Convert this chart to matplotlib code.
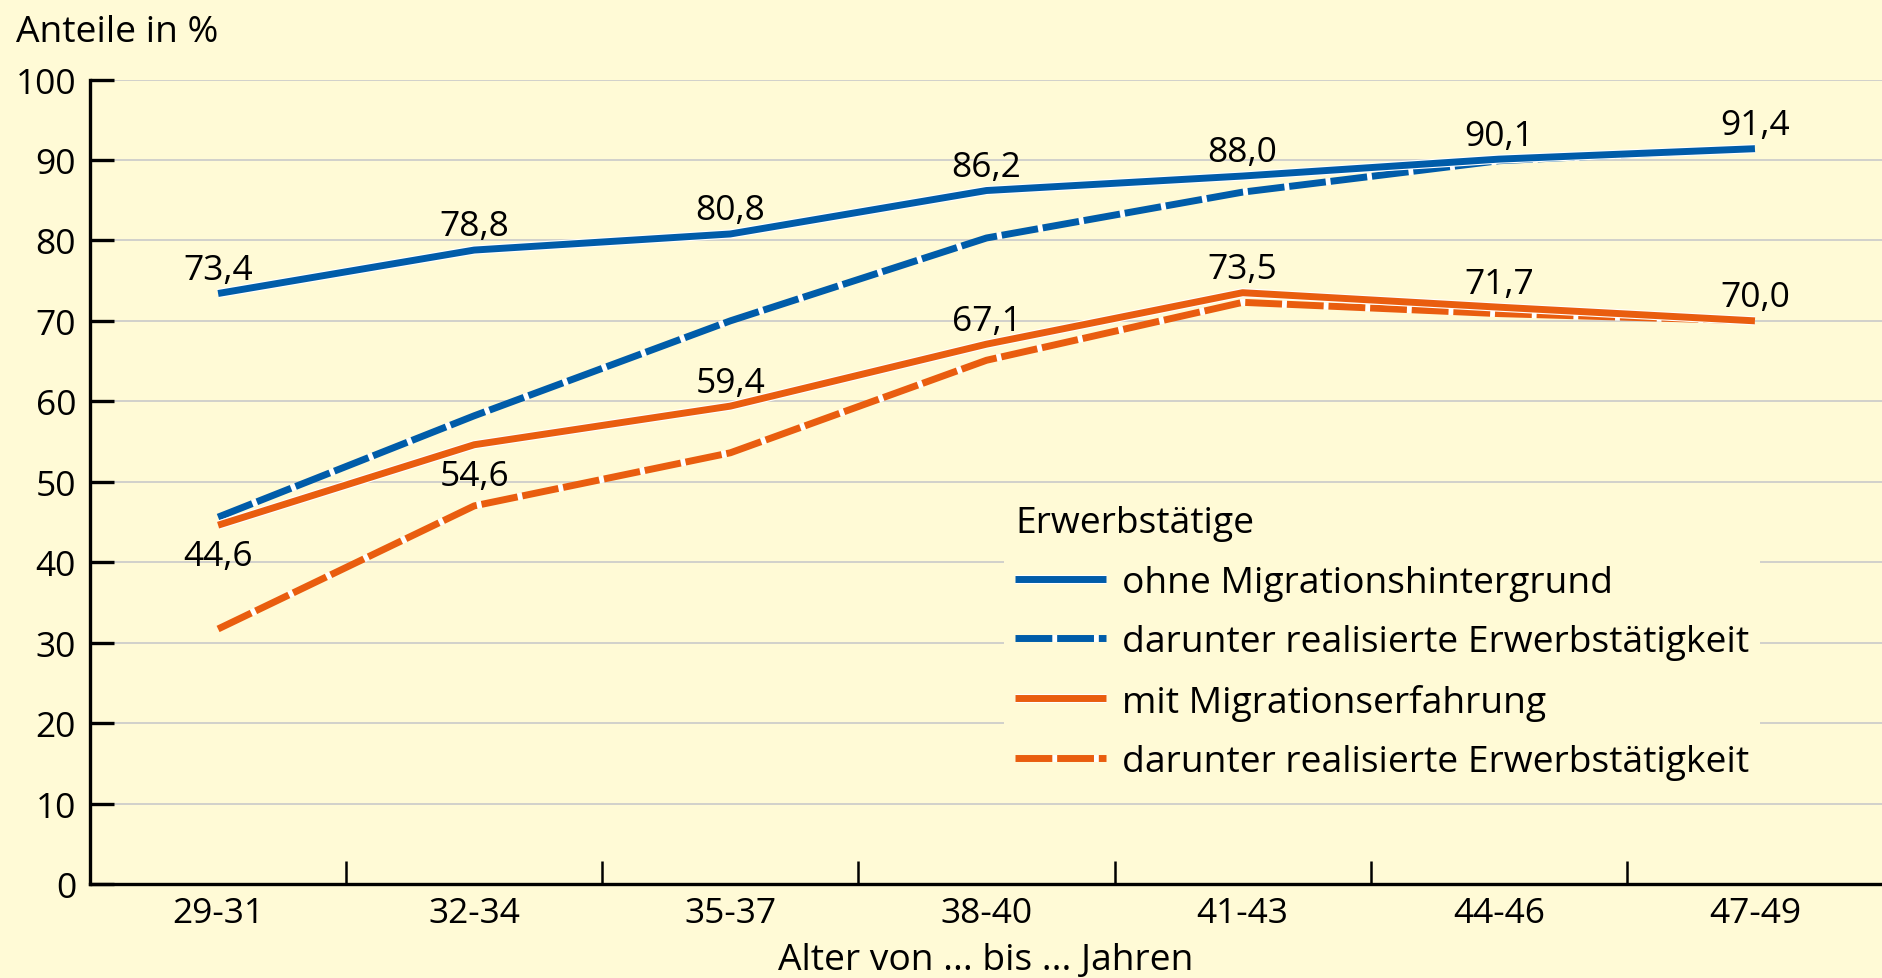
import matplotlib
matplotlib.use("Agg")
import matplotlib.pyplot as plt
import matplotlib.patheffects as pe
from matplotlib.ticker import FixedLocator

plt.rcParams['font.family'] = ['Open Sans', 'DejaVu Sans']

# age groups on the x axis
age_groups = ['29-31', '32-34', '35-37', '38-40', '41-43', '44-46', '47-49']

# shares in percent
ohne_mig = [73.4, 78.8, 80.8, 86.2, 88.0, 90.1, 91.4]
ohne_mig_real = [45.6, 58.2, 70.0, 80.3, 86.0, 89.9, 91.4]
mit_mig = [44.6, 54.6, 59.4, 67.1, 73.5, 71.7, 70.0]
mit_mig_real = [31.7, 47.0, 53.6, 65.1, 72.3, 70.9, 70.0]

# where the value label sits relative to the solid line
ohne_label_pos = ['above'] * 7
mit_label_pos = ['below', 'below', 'above', 'above', 'above', 'above', 'above']

legend_labels = ['ohne Migrationshintergrund', 'darunter realisierte Erwerbstätigkeit',
                 'mit Migrationserfahrung', 'darunter realisierte Erwerbstätigkeit']

bg = '#fffad6'
blue = '#005ca9'
orange = '#e95d0f'
lw = 5.0
dash = (0, (5.3, 0.7))
halo = [pe.Stroke(linewidth=lw + 1.6, foreground='white'), pe.Normal()]
fs_num = 25.5
fs_txt = 26.8


def fmt(v):
    return f"{v:.1f}".replace('.', ',')


fig = plt.figure(figsize=(18.83, 9.79), dpi=100, facecolor=bg)
ax = fig.add_axes([90 / 1883, 1 - 885 / 979, 1 - 90 / 1883, (885 - 80.5) / 979])
ax.set_facecolor(bg)

x = list(range(len(age_groups)))

l2, = ax.plot(x, ohne_mig_real, color=blue, lw=lw, ls=dash, gapcolor='white',
              solid_capstyle='butt', dash_capstyle='butt', zorder=3)
l4, = ax.plot(x, mit_mig_real, color=orange, lw=lw, ls=dash, gapcolor='white',
              solid_capstyle='butt', dash_capstyle='butt', zorder=3)
l1, = ax.plot(x, ohne_mig, color=blue, lw=lw, solid_capstyle='butt',
              path_effects=halo, zorder=4)
l3, = ax.plot(x, mit_mig, color=orange, lw=lw, solid_capstyle='butt',
              path_effects=halo, zorder=4)

for vals, where in [(ohne_mig, ohne_label_pos), (mit_mig, mit_label_pos)]:
    for i, v in enumerate(vals):
        off = 10.5 if where[i] == 'above' else -29
        ax.annotate(fmt(v), (i, v), xytext=(0, off), textcoords='offset points',
                    ha='center', va='baseline', fontsize=fs_num, zorder=5)

ax.set_xlim(-0.5, 6.5)
ax.set_ylim(0, 100)
ax.set_yticks(range(0, 101, 10))
ax.set_xticks(x)
ax.set_xticklabels(age_groups)
ax.xaxis.set_minor_locator(FixedLocator([i + 0.5 for i in range(6)]))

ax.tick_params(axis='y', direction='in', length=17, width=2.4, pad=10, labelsize=fs_num)
ax.tick_params(axis='x', which='major', length=0, pad=9, labelsize=fs_num)
ax.tick_params(axis='x', which='minor', direction='in', length=16.5, width=1.8)

for s in ['top', 'right']:
    ax.spines[s].set_visible(False)
for s in ['left', 'bottom']:
    ax.spines[s].set_linewidth(2.4)
    ax.spines[s].set_zorder(6)

for yv in range(10, 101, 10):
    ax.axhline(yv, color='#c9c9c9', lw=1.2, zorder=1)

leg = ax.legend([l1, l2, l3, l4], legend_labels, title='Erwerbstätige',
                loc='upper left', bbox_to_anchor=(1004 / 1883, 1 - 495 / 979),
                bbox_transform=fig.transFigure, borderaxespad=0,
                fontsize=fs_txt, title_fontsize=fs_txt, handlelength=2.45,
                handletextpad=0.41, labelspacing=0.63, borderpad=0.3,
                alignment='left', frameon=True, facecolor=bg, edgecolor='none',
                framealpha=1, fancybox=False)
leg.set_zorder(7)

fig.text(16 / 1883, 1 - 42 / 979, 'Anteile in %', fontsize=fs_txt, va='baseline', ha='left')
fig.text(986 / 1883, 0.0, 'Alter von ... bis ... Jahren', fontsize=fs_txt,
         va='bottom', ha='center')

fig.savefig('out.png', dpi=100, facecolor=bg)
